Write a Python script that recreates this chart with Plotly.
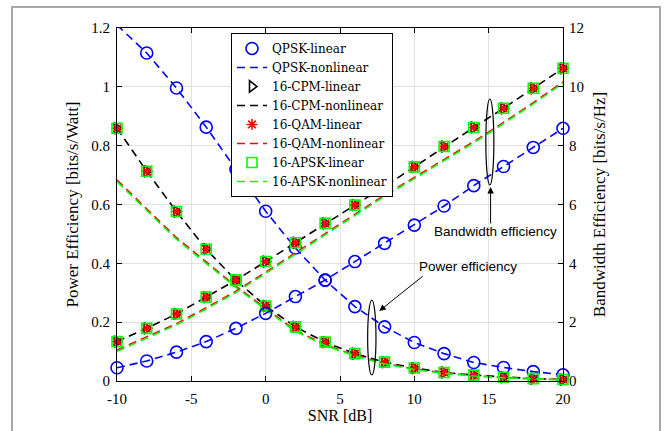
import plotly.graph_objects as go

# SNR grid (dB)
snr = [-10, -8, -6, -4, -2, 0, 2, 4, 6, 8, 10, 12, 14, 16, 18, 20]

# QPSK (linear and nonlinear coincide)
qpsk_power = [1.21, 1.115, 0.996, 0.863, 0.72, 0.577, 0.452, 0.343, 0.253,
              0.184, 0.131, 0.093, 0.063, 0.046, 0.032, 0.021]
qpsk_bw = [0.45, 0.68, 0.98, 1.34, 1.79, 2.30, 2.87, 3.43, 4.06, 4.68,
           5.30, 5.95, 6.64, 7.29, 7.94, 8.59]

# 16-ary linear amplifier (CPM, QAM, APSK share the same curve)
lin16_power = [0.859, 0.713, 0.576, 0.448, 0.342, 0.255, 0.184, 0.132, 0.093,
               0.064, 0.044, 0.029, 0.020, 0.013, 0.008, 0.005]
lin16_bw = [1.34, 1.79, 2.28, 2.85, 3.43, 4.06, 4.70, 5.36, 5.98, 6.61,
            7.28, 7.97, 8.62, 9.27, 9.95, 10.63]

# 16-CPM nonlinear (constant envelope: unaffected)
cpm_nl_power = [0.859, 0.713, 0.576, 0.448, 0.342, 0.255, 0.184, 0.132, 0.093,
                0.064, 0.044, 0.029, 0.020, 0.013, 0.008, 0.005]
cpm_nl_bw = [1.34, 1.79, 2.28, 2.85, 3.43, 4.06, 4.70, 5.36, 5.98, 6.61,
             7.28, 7.97, 8.62, 9.27, 9.95, 10.63]

# 16-QAM nonlinear
qam_nl_power = [0.683, 0.585, 0.487, 0.405, 0.322, 0.247, 0.172, 0.124, 0.087,
                0.060, 0.041, 0.027, 0.018, 0.012, 0.007, 0.005]
qam_nl_bw = [1.05, 1.49, 1.95, 2.49, 3.05, 3.70, 4.36, 5.02, 5.68, 6.32,
             6.92, 7.52, 8.14, 8.79, 9.46, 10.17]

# 16-APSK nonlinear
apsk_nl_power = [0.678, 0.580, 0.482, 0.400, 0.318, 0.243, 0.169, 0.121, 0.085,
                 0.058, 0.039, 0.026, 0.017, 0.011, 0.007, 0.004]
apsk_nl_bw = [1.01, 1.45, 1.91, 2.45, 3.01, 3.66, 4.32, 4.98, 5.64, 6.28,
              6.88, 7.48, 8.10, 8.75, 9.42, 10.13]

x_tickvals = [-10, -5, 0, 5, 10, 15, 20]
x_ticktext = ["-10", "-5", "0", "5", "10", "15", "20"]
y_tickvals = [0, 0.2, 0.4, 0.6, 0.8, 1.0, 1.2]
y_ticktext = ["0", "0.2", "0.4", "0.6", "0.8", "1", "1.2"]
y2_tickvals = [0, 2, 4, 6, 8, 10, 12]
y2_ticktext = ["0", "2", "4", "6", "8", "10", "12"]

SERIF = "Liberation Serif"
LEGEND_SERIF = "DejaVu Serif"
SANS = "Liberation Sans"
DASH = "8px,5px"

fig = go.Figure()


def add_markers(name, power, bw, color, symbol, size):
    for i, (vals, yax) in enumerate(((power, "y"), (bw, "y2"))):
        fig.add_trace(go.Scatter(
            x=snr, y=vals, yaxis=yax, mode="markers", name=name,
            showlegend=(i == 0), cliponaxis=False,
            marker=dict(symbol=symbol, size=size, color=color,
                        line=dict(color=color, width=1.6)),
        ))


def add_line(name, power, bw, color):
    for i, (vals, yax) in enumerate(((power, "y"), (bw, "y2"))):
        fig.add_trace(go.Scatter(
            x=snr, y=vals, yaxis=yax, mode="lines", name=name,
            showlegend=(i == 0),
            line=dict(color=color, width=1.6, dash=DASH),
        ))


add_markers("QPSK-linear", qpsk_power, qpsk_bw, "#0000ff", "circle-open", 12)
add_line("QPSK-nonlinear", qpsk_power, qpsk_bw, "#0000ff")
add_markers("16-CPM-linear", lin16_power, lin16_bw, "#000000", "triangle-right-open", 10)
add_line("16-CPM-nonlinear", cpm_nl_power, cpm_nl_bw, "#000000")
add_markers("16-QAM-linear", lin16_power, lin16_bw, "#ff0000", "asterisk-open", 9)
add_line("16-QAM-nonlinear", qam_nl_power, qam_nl_bw, "#ff0000")
add_markers("16-APSK-linear", lin16_power, lin16_bw, "#00ff00", "square-open", 10)
add_line("16-APSK-nonlinear", apsk_nl_power, apsk_nl_bw, "#00ff00")

axis_common = dict(
    ticks="inside", ticklen=5, tickwidth=1, tickcolor="black",
    showline=True, linecolor="black", linewidth=1,
    zeroline=False, automargin=False,
    tickfont=dict(family=SERIF, size=15, color="black"),
)

fig.update_layout(
    width=664, height=431, autosize=False,
    margin=dict(l=117, r=101, t=28, b=50),
    paper_bgcolor="white", plot_bgcolor="white",
    showlegend=True,
    xaxis=dict(
        range=[-10, 20], tickvals=x_tickvals, ticktext=x_ticktext,
        mirror="ticks", showgrid=True, gridcolor="#e2e2e2", gridwidth=1,
        ticklabelstandoff=4,
        title=dict(text="SNR [dB]", font=dict(family=SERIF, size=16, color="black"),
                   standoff=0),
        **axis_common,
    ),
    yaxis=dict(
        range=[0, 1.2], tickvals=y_tickvals, ticktext=y_ticktext,
        showgrid=True, gridcolor="#e2e2e2", gridwidth=1,
        ticklabelstandoff=3,
        title=dict(text="Power Efficiency [bits/s/Watt]",
                   font=dict(family=SERIF, size=17, color="black"), standoff=8),
        **axis_common,
    ),
    yaxis2=dict(
        range=[0, 12], tickvals=y2_tickvals, ticktext=y2_ticktext,
        overlaying="y", side="right", showgrid=False,
        ticklabelstandoff=2,
        title=dict(text="Bandwidth Efficiency [bits/s/Hz]",
                   font=dict(family=SERIF, size=17, color="black"), standoff=10),
        **axis_common,
    ),
    legend=dict(
        x=0.2556, y=0.986, xanchor="left", yanchor="top",
        bgcolor="white", bordercolor="black", borderwidth=1,
        font=dict(family=LEGEND_SERIF, size=12, color="black"),
        tracegroupgap=0,
    ),
)

# Outer frame around the figure
fig.add_shape(type="rect", xref="paper", yref="paper",
              x0=-0.2354, x1=1.2175, y0=-0.2, y1=1.0595,
              line=dict(color="#a8a8a8", width=2), layer="below")

# Ellipses grouping the two families of curves
fig.add_shape(type="circle", xref="x", yref="y",
              x0=6.86, x1=7.42, y0=0.0204, y1=0.2754,
              line=dict(color="black", width=1.2), layer="above")
fig.add_shape(type="circle", xref="x", yref="y",
              x0=14.81, x1=15.35, y0=0.6663, y1=0.9586,
              line=dict(color="black", width=1.2), layer="above")

# Labels and arrows
fig.add_annotation(x=7.64, y=0.238, xref="x", yref="y", text="",
                   showarrow=True, ax=45, ay=-36, axref="pixel", ayref="pixel",
                   arrowhead=2, arrowsize=1.3, arrowwidth=1, arrowcolor="black")
fig.add_annotation(x=15.13, y=0.6595, xref="x", yref="y", text="",
                   showarrow=True, ax=0, ay=38,
                   arrowhead=2, arrowsize=1.3, arrowwidth=1, arrowcolor="black")
fig.add_annotation(x=13.6, y=0.390, xref="x", yref="y", text="Power efficiency",
                   showarrow=False, xanchor="center", yanchor="middle",
                   font=dict(family=SANS, size=13.5, color="black"))
fig.add_annotation(x=15.45, y=0.5067, xref="x", yref="y", text="Bandwidth efficiency",
                   showarrow=False, xanchor="center", yanchor="middle",
                   font=dict(family=SANS, size=13.5, color="black"))

fig.write_html("out.html")
